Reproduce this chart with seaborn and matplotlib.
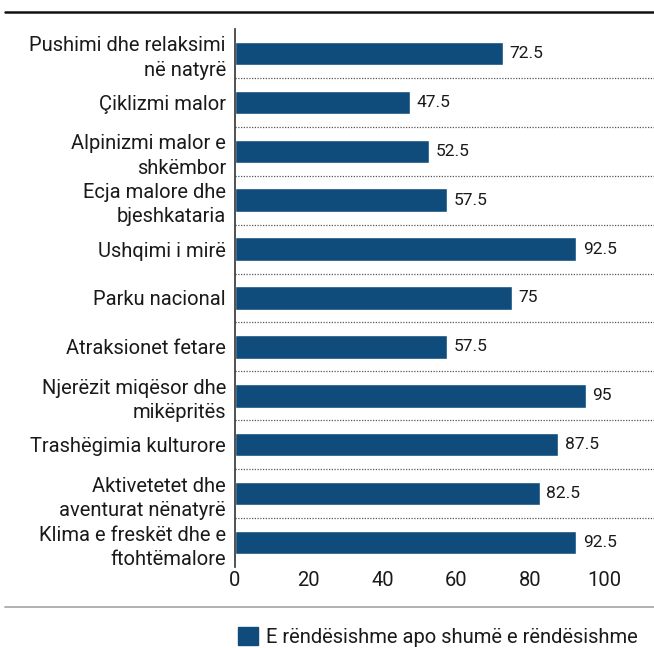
import matplotlib
matplotlib.use("Agg")
import matplotlib.pyplot as plt
import seaborn as sns
import pandas as pd
from matplotlib.lines import Line2D
from matplotlib.patches import Patch

categories = [
    "Pushimi dhe relaksimi\nnë natyrë",
    "Çiklizmi malor",
    "Alpinizmi malor e\nshkëmbor",
    "Ecja malore dhe\nbjeshkataria",
    "Ushqimi i mirë",
    "Parku nacional",
    "Atraksionet fetare",
    "Njerëzit miqësor dhe\nmikëpritës",
    "Trashëgimia kulturore",
    "Aktivetetet dhe\naventurat nënatyrë",
    "Klima e freskët dhe e\nftohtëmalore",
]
values = [72.5, 47.5, 52.5, 57.5, 92.5, 75, 57.5, 95, 87.5, 82.5, 92.5]
value_labels = ["72.5", "47.5", "52.5", "57.5", "92.5", "75", "57.5", "95", "87.5", "82.5", "92.5"]
x_ticks = [0, 20, 40, 60, 80, 100]
series_name = "E rëndësishme apo shumë e rëndësishme"

BAR = "#0f4c7c"
TXT = "#1a1a1a"

sns.set_theme(style="white")
plt.rcParams["font.family"] = ["Roboto", "DejaVu Sans"]

df = pd.DataFrame({"cat": categories, "val": values})

fig = plt.figure(figsize=(6.54, 6.48), dpi=100)
W, H = 654, 648
ax = fig.add_axes([235 / W, 1 - 567 / H, (654 - 235) / W, (567 - 29) / H])

sns.barplot(data=df, x="val", y="cat", color=BAR, saturation=1, width=0.48, ax=ax, orient="h")

ax.set_xlim(0, 113.5)
ax.set_ylim(len(categories) - 0.5, -0.5)
ax.set_xticks(x_ticks)
ax.set_xticklabels([str(t) for t in x_ticks], fontsize=14.5, color=TXT)
ax.set_yticks(range(len(categories)))
ax.set_yticklabels(categories, fontsize=14.5, color=TXT, linespacing=1.35)
ax.tick_params(axis="y", length=0, pad=6.5)
ax.tick_params(axis="x", length=0, pad=3)
ax.set_xlabel("")
ax.set_ylabel("")

for s in ["top", "right", "bottom"]:
    ax.spines[s].set_visible(False)
ax.spines["left"].set_color("#333333")
ax.spines["left"].set_linewidth(1.2)

# dotted separators between categories
for i in range(len(categories) - 1):
    ax.axhline(i + 0.5, color="#555555", linestyle=(0, (1, 1.2)), linewidth=0.9, zorder=0)

# value labels
for i, (v, lab) in enumerate(zip(values, value_labels)):
    ax.text(v + 1.8, i, lab, va="center", ha="left", fontsize=12.5, color=TXT)

# frame rules at top and bottom
fig.add_artist(Line2D([5 / W, 1], [1 - 12 / H, 1 - 12 / H], color="#111111", linewidth=1.8))
fig.add_artist(Line2D([5 / W, 1], [1 - 607 / H, 1 - 607 / H], color="#aaaaaa", linewidth=1.3))

# legend
fig.legend(handles=[Patch(facecolor=BAR, edgecolor=BAR)], labels=[series_name],
           loc="center", bbox_to_anchor=(438 / W, 1 - 637 / H), frameon=False,
           fontsize=14.5, handlelength=1.0, handleheight=1.0, handletextpad=0.4,
           labelcolor=TXT)

fig.savefig("out.png", dpi=100)
